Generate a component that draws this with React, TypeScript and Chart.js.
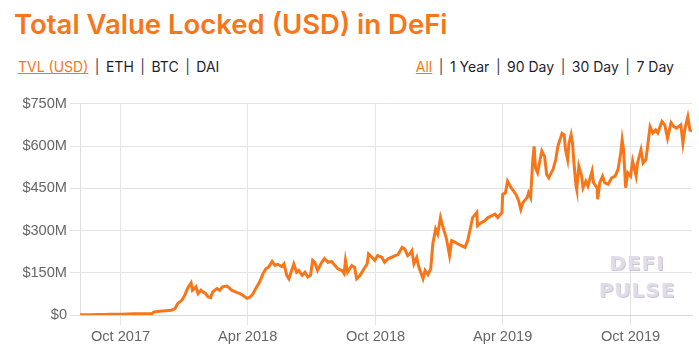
import React, { useEffect, useRef } from "react";
import { Chart, registerables } from "chart.js";

Chart.register(...registerables);

const TITLE = "Total Value Locked (USD) in DeFi";
const leftLinks = ["TVL (USD)", "ETH", "BTC", "DAI"];
const rightLinks = ["All", "1 Year", "90 Day", "30 Day", "7 Day"];

const dates = [
  "2017-08-04","2017-08-12","2017-08-21","2017-08-30","2017-09-07","2017-09-16","2017-09-24","2017-10-03",
  "2017-10-11","2017-10-20","2017-10-29","2017-11-06","2017-11-15","2017-11-18","2017-11-26","2017-12-05",
  "2017-12-13","2017-12-18","2017-12-22","2017-12-28","2018-01-01","2018-01-05","2018-01-10","2018-01-12",
  "2018-01-17","2018-01-20","2018-01-24","2018-01-27","2018-01-31","2018-02-03","2018-02-07","2018-02-10",
  "2018-02-16","2018-02-20","2018-02-24","2018-03-02","2018-03-05","2018-03-09","2018-03-16","2018-03-21",
  "2018-03-25","2018-03-31","2018-04-04","2018-04-08","2018-04-14","2018-04-18","2018-04-23","2018-04-27",
  "2018-05-01","2018-05-06","2018-05-10","2018-05-14","2018-05-20","2018-05-23","2018-05-27","2018-05-30",
  "2018-06-03","2018-06-06","2018-06-10","2018-06-13","2018-06-18","2018-06-22","2018-06-26","2018-06-30",
  "2018-07-03","2018-07-06","2018-07-10","2018-07-16","2018-07-20","2018-07-25","2018-07-30","2018-08-04",
  "2018-08-08","2018-08-14","2018-08-17","2018-08-19","2018-08-22","2018-08-28","2018-09-01","2018-09-04",
  "2018-09-09","2018-09-13","2018-09-19","2018-09-21","2018-09-26","2018-09-30","2018-10-04","2018-10-10",
  "2018-10-14","2018-10-19","2018-10-24","2018-10-29","2018-11-02","2018-11-08","2018-11-12","2018-11-16",
  "2018-11-19","2018-11-22","2018-11-25","2018-11-29","2018-12-02","2018-12-08","2018-12-11","2018-12-15",
  "2018-12-19","2018-12-22","2018-12-26","2018-12-29","2019-01-02","2019-01-05","2019-01-10","2019-01-12",
  "2019-01-15","2019-01-18","2019-01-22","2019-01-27","2019-02-01","2019-02-06","2019-02-10","2019-02-13",
  "2019-02-17","2019-02-23","2019-02-24","2019-03-02","2019-03-06","2019-03-11","2019-03-16","2019-03-21",
  "2019-03-25","2019-03-31","2019-04-01","2019-04-05","2019-04-08","2019-04-13","2019-04-15","2019-04-20",
  "2019-04-24","2019-04-27","2019-04-30","2019-05-06","2019-05-08","2019-05-11","2019-05-14","2019-05-16",
  "2019-05-18","2019-05-21","2019-05-27","2019-05-31","2019-06-03","2019-06-06","2019-06-07","2019-06-12",
  "2019-06-16","2019-06-19","2019-06-22","2019-06-25","2019-06-28","2019-06-30","2019-07-03","2019-07-05",
  "2019-07-08","2019-07-10","2019-07-12","2019-07-15","2019-07-16","2019-07-19","2019-07-23","2019-07-25",
  "2019-07-29","2019-08-01","2019-08-07","2019-08-09","2019-08-14","2019-08-15","2019-08-18","2019-08-22",
  "2019-08-25","2019-08-30","2019-09-04","2019-09-09","2019-09-13","2019-09-17","2019-09-19","2019-09-21",
  "2019-09-24","2019-09-27","2019-10-01","2019-10-04","2019-10-09","2019-10-11","2019-10-16","2019-10-19",
  "2019-10-23","2019-10-26","2019-10-29","2019-11-02","2019-11-06","2019-11-09","2019-11-15","2019-11-19",
  "2019-11-23","2019-11-28","2019-12-02","2019-12-06","2019-12-12","2019-12-15","2019-12-18","2019-12-22",
  "2019-12-25","2019-12-28"
];

// TVL in millions of USD
const tvlUsdM = [
  1, 1, 1, 1.5, 2, 2.5, 3, 3,
  3.5, 4, 4, 4.5, 5, 11, 13, 15,
  17, 23, 41, 53, 70, 95, 114, 88,
  100, 76, 88, 82, 76, 65, 62, 82,
  94, 88, 100, 103, 98, 88, 80, 76,
  70, 59, 63, 73, 100, 117, 147, 164,
  170, 190, 176, 180, 172, 181, 141, 129,
  158, 181, 152, 158, 141, 152, 135, 141,
  194, 187, 158, 187, 200, 187, 190, 176,
  164, 158, 147, 194, 152, 176, 170, 129,
  141, 158, 181, 217, 205, 194, 211, 205,
  187, 200, 205, 211, 214, 240, 234, 211,
  217, 228, 182, 204, 170, 129, 158, 143,
  164, 252, 305, 287, 346, 317, 276, 252,
  211, 264, 260, 252, 246, 240, 264, 299,
  346, 364, 317, 329, 334, 346, 352, 358,
  346, 364, 428, 434, 475, 452, 446, 428,
  405, 375, 399, 417, 434, 417, 546, 599,
  522, 505, 582, 563, 499, 487, 493, 516,
  552, 599, 622, 645, 640, 587, 552, 610,
  640, 610, 540, 458, 446, 528, 493, 452,
  475, 458, 511, 470, 452, 411, 470, 493,
  470, 464, 487, 493, 516, 575, 622, 587,
  452, 505, 493, 546, 493, 540, 587, 540,
  552, 610, 669, 646, 657, 646, 687, 675,
  628, 683, 669, 663, 675, 610, 663, 704,
  657, 653
];

const xTickDates = ["2017-10-01", "2018-04-01", "2018-10-01", "2019-04-01", "2019-10-01"];
const xTickLabels = ["Oct 2017", "Apr 2018", "Oct 2018", "Apr 2019", "Oct 2019"];

const yMax = 750;
const yStep = 150;

const ORANGE = "#f7761a";

const dayNum = (s: string) => {
  const [y, m, d] = s.split("-").map(Number);
  return Date.UTC(y, m - 1, d) / 86400000;
};

const watermark = {
  id: "watermark",
  beforeDatasetsDraw(chart: any) {
    const { ctx, chartArea } = chart;
    ctx.save();
    ctx.textAlign = "center";
    ctx.textBaseline = "alphabetic";
    ctx.font = "bold 20px 'DejaVu Sans'";
    try { (ctx as any).letterSpacing = "1px"; } catch (e) {}
    const cx = chartArea.right - 55;
    const rows: [string, number][] = [["DEFI", chartArea.bottom - 45], ["PULSE", chartArea.bottom - 18]];
    for (const [t, y] of rows) {
      ctx.fillStyle = "#c9c6d2";
      ctx.fillText(t, cx + 1, y + 1);
      ctx.fillStyle = "#e0dde9";
      ctx.fillText(t, cx, y);
    }
    ctx.restore();
  },
};

export default function App() {
  const canvasRef = useRef<HTMLCanvasElement | null>(null);

  useEffect(() => {
    if (!canvasRef.current) return;
    const tickFont = { family: "'Liberation Sans', Arial, sans-serif", size: 14.6 };
    const chart = new Chart(canvasRef.current, {
      type: "line",
      data: {
        datasets: [
          {
            label: "TVL (USD)",
            data: tvlUsdM.map((v, i) => ({ x: dayNum(dates[i]), y: v })),
            borderColor: ORANGE,
            backgroundColor: ORANGE,
            borderWidth: 3,
            pointRadius: 0,
            tension: 0,
            fill: false,
          },
        ],
      },
      options: {
        animation: false,
        responsive: true,
        maintainAspectRatio: false,
        layout: { padding: { top: 10, right: 7, left: 0, bottom: 0 } },
        plugins: { legend: { display: false }, tooltip: { enabled: false } },
        scales: {
          x: {
            type: "linear",
            min: dayNum(dates[0]),
            max: dayNum(dates[dates.length - 1]),
            afterBuildTicks: (scale: any) => {
              scale.ticks = xTickDates.map((d) => ({ value: dayNum(d) }));
            },
            afterFit: (scale: any) => {
              scale.height = 39;
            },
            ticks: {
              autoSkip: false,
              maxRotation: 0,
              padding: 3,
              color: "#666",
              font: tickFont,
              callback: (_v: any, i: number) => xTickLabels[i],
            },
            grid: { color: "#e4e4e4", tickLength: 10 },
            border: { color: "#d8d8d8" },
          },
          y: {
            min: 0,
            max: yMax,
            afterFit: (scale: any) => {
              scale.width = 80;
            },
            ticks: {
              stepSize: yStep,
              padding: 3,
              color: "#666",
              font: tickFont,
              callback: (v: any) => (v === 0 ? "$0" : `$${v}M`),
            },
            grid: { color: "#e4e4e4", tickLength: 10 },
            border: { color: "#e0e0e0" },
          },
        },
      },
      plugins: [watermark],
    } as any);
    return () => chart.destroy();
  }, []);

  const linkStyle: React.CSSProperties = { color: "#1f1f2b" };
  const activeStyle: React.CSSProperties = { color: ORANGE, textDecoration: "underline" };
  const sepStyle: React.CSSProperties = { margin: "0 6.5px", color: "#3a3a5a" };

  const renderLinks = (items: string[]) =>
    items.map((t, i) => (
      <React.Fragment key={t}>
        {i > 0 && <span style={sepStyle}>|</span>}
        <span style={i === 0 ? activeStyle : linkStyle}>{t}</span>
      </React.Fragment>
    ));

  return (
    <div
      style={{
        position: "absolute",
        left: 0,
        top: 0,
        width: 699,
        height: 354,
        background: "#fff",
        fontFamily: "Inter, 'Noto Sans', sans-serif",
        overflow: "hidden",
      }}
    >
      <div
        style={{
          position: "absolute",
          left: 14,
          top: 11,
          fontSize: 27.5,
          lineHeight: 1,
          fontWeight: 600,
          color: ORANGE,
          whiteSpace: "nowrap",
        }}
      >
        {TITLE}
      </div>
      <div style={{ position: "absolute", left: 18, top: 60, fontSize: 14, lineHeight: 1, whiteSpace: "nowrap" }}>
        {renderLinks(leftLinks)}
      </div>
      <div style={{ position: "absolute", right: 25, top: 60, fontSize: 14, lineHeight: 1, whiteSpace: "nowrap" }}>
        {renderLinks(rightLinks)}
      </div>
      <div style={{ position: "absolute", left: 0, top: 92, width: 699, height: 262 }}>
        <canvas ref={canvasRef} />
      </div>
    </div>
  );
}
